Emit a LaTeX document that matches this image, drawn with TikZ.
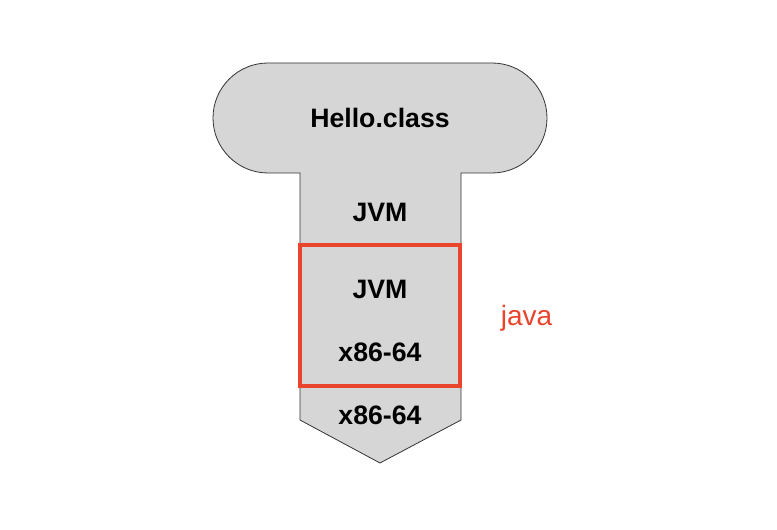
\documentclass[tikz,border=0pt]{standalone}
\usepackage{fontspec}
\setmainfont{Liberation Sans}
\usetikzlibrary{positioning}
\definecolor{layergrey}{HTML}{D6D6D6}
\definecolor{javared}{HTML}{E8452C}
\tikzset{
  layer/.style={font=\bfseries\fontsize{20}{23}\selectfont, text=black, inner sep=0pt},
  javabox/.style={draw=javared, line width=2.3pt, minimum width=120pt, minimum height=105.75pt, inner sep=0pt},
}

\begin{document}
\begin{tikzpicture}[x=0.75pt,y=-0.75pt]
\useasboundingbox (0,0) rectangle (777,530);

% outline of the stack
\draw[fill=layergrey, draw=black!80, line width=0.6pt]
  (300,173) -- (268,173) arc[start angle=90, end angle=270, radius=55]
  -- (492,63) arc[start angle=270, end angle=450, radius=55]
  -- (461,173) -- (461,420) -- (380,463) -- (300,420) -- cycle;

\node[javabox] (jvmbox) at (380,315.5) {};

\node[layer] (hello) at (380,118) {Hello.class};
\node[layer] (jvm) at (380,212) {JVM};
\node[layer] (jvmin) at (380,289) {JVM};
\node[layer] (x86in) at (380,352) {x86-64};
\node[layer] (x86) at (380,415) {x86-64};

\node[font=\fontsize{21}{24}\selectfont, text=javared, right=26pt of jvmbox.east, anchor=west, yshift=-2pt] (java) {java};
\end{tikzpicture}
\end{document}
